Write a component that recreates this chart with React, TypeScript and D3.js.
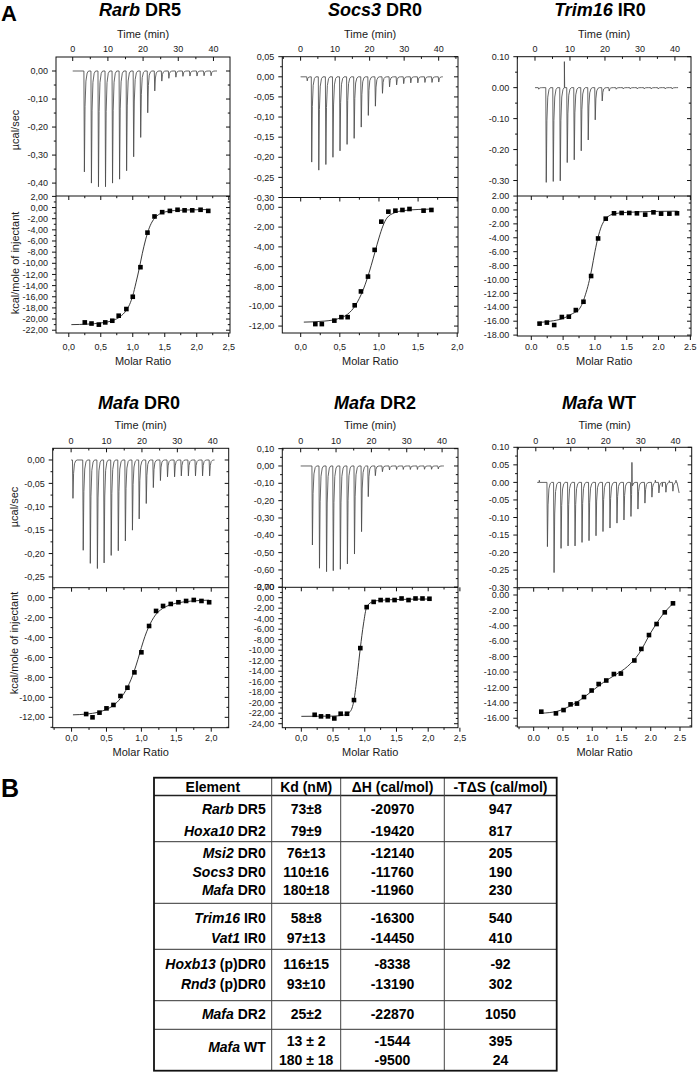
import React from 'react';
import * as d3 from 'd3';

const FONT = "'Liberation Sans', Arial, Helvetica, sans-serif";

// ---------- Panel A data ----------
// Rarb DR5
const rarbTimes = [3.2, 5.2, 7.2, 9.2, 11.2, 13.2, 15.2, 17.2, 19.2, 21.2, 23.2, 25.2, 27.2, 29.2, 31.2, 33.2, 35.2, 37.2, 39.2];
const rarbPeaks = [-0.36, -0.4, -0.413, -0.413, -0.4, -0.386, -0.356, -0.306, -0.237, -0.149, -0.071, -0.036, -0.026, -0.022, -0.019, -0.018, -0.018, -0.017, -0.017];
const rarbRatio = [0.25, 0.355, 0.47, 0.57, 0.68, 0.78, 0.9, 1.0, 1.12, 1.23, 1.34, 1.46, 1.58, 1.7, 1.81, 1.93, 2.06, 2.18];
const rarbHeat = [-20.6, -20.8, -21.0, -20.6, -20.3, -19.4, -18.2, -16.0, -10.7, -4.5, -1.6, -0.83, -0.6, -0.4, -0.5, -0.5, -0.4, -0.6];
const rarbFitX = [0.04, 0.3, 0.5, 0.7, 0.8, 0.9, 0.95, 1.0, 1.05, 1.1, 1.15, 1.2, 1.25, 1.3, 1.35, 1.4, 1.5, 1.7, 2.0, 2.19];
const rarbFitY = [-21.0, -20.9, -20.7, -20.2, -19.6, -18.4, -17.4, -15.8, -13.5, -11.0, -8.2, -5.8, -3.9, -2.6, -1.8, -1.3, -0.8, -0.5, -0.4, -0.35];

// Socs3 DR0
const socsTimes = [1.8, 3.1, 5.15, 7.2, 9.25, 11.3, 13.35, 15.4, 17.45, 19.5, 21.55, 23.6, 25.65, 27.7, 29.75, 31.8, 33.85, 35.9, 37.95, 39.9];
const socsPeaks = [-0.01, -0.212, -0.232, -0.218, -0.2, -0.184, -0.168, -0.153, -0.125, -0.096, -0.073, -0.041, -0.025, -0.02, -0.017, -0.015, -0.015, -0.014, -0.014, -0.013];
const socsRatio = [0.187, 0.27, 0.43, 0.52, 0.6, 0.69, 0.77, 0.86, 0.945, 1.03, 1.12, 1.21, 1.3, 1.39, 1.57, 1.67];
const socsHeat = [-11.8, -11.8, -11.45, -11.1, -11.1, -9.9, -8.5, -7.0, -4.3, -1.45, -0.44, -0.34, -0.27, -0.17, -0.34, -0.27];
const socsFitX = [0.04, 0.3, 0.5, 0.6, 0.7, 0.8, 0.85, 0.9, 0.95, 1.0, 1.05, 1.1, 1.2, 1.3, 1.5, 1.67];
const socsFitY = [-11.6, -11.5, -11.2, -10.8, -9.9, -8.3, -7.2, -5.9, -4.5, -3.1, -1.9, -1.1, -0.55, -0.35, -0.22, -0.18];

// Trim16 IR0
const trimTimes = [0.95, 3.1, 5.1, 7.1, 9.1, 11.1, 13.1, 15.1, 17.1, 19.1, 21.1, 23.1, 25.1, 27.1, 29.1, 31.1, 33.1, 35.1, 37.1, 39.1];
const trimPeaks = [-0.005, -0.306, -0.303, -0.301, -0.242, -0.233, -0.204, -0.169, -0.104, -0.043, -0.011, -0.005, -0.004, -0.004, -0.004, -0.004, -0.004, -0.004, -0.004, -0.004];
const trimSpikes: [number, number][] = [[8.4, 0.084]];
const trimRatio = [0.13, 0.245, 0.36, 0.48, 0.59, 0.7, 0.82, 0.94, 1.05, 1.17, 1.3, 1.42, 1.54, 1.66, 1.79, 1.92, 2.04, 2.17, 2.29];
const trimHeat = [-16.35, -16.2, -16.55, -15.4, -15.35, -14.4, -13.2, -9.5, -4.1, -1.25, -0.48, -0.43, -0.43, -0.48, -0.67, -0.34, -0.53, -0.53, -0.48];
const trimFitX = [0.1, 0.3, 0.5, 0.65, 0.75, 0.8, 0.85, 0.9, 0.95, 1.0, 1.05, 1.1, 1.15, 1.2, 1.3, 1.5, 2.0, 2.3];
const trimFitY = [-16.2, -16.0, -15.6, -14.9, -14.3, -13.5, -12.2, -10.6, -8.5, -6.0, -3.9, -2.4, -1.5, -1.0, -0.55, -0.35, -0.2, -0.17];

// Mafa DR0
const mdr0Times = [0.4, 3.3, 5.3, 7.3, 9.2, 11.2, 13.2, 15.2, 17.2, 19.1, 21.1, 23.1, 25.1, 27.1, 29.1, 31.0, 33.0, 35.0, 37.0, 39.0];
const mdr0Peaks = [-0.082, -0.193, -0.221, -0.232, -0.22, -0.204, -0.194, -0.173, -0.15, -0.126, -0.093, -0.059, -0.044, -0.036, -0.036, -0.034, -0.034, -0.034, -0.034, -0.034];
const mdr0Ratio = [0.209, 0.3, 0.4, 0.5, 0.6, 0.7, 0.8, 0.9, 1.0, 1.11, 1.21, 1.31, 1.42, 1.53, 1.64, 1.75, 1.86, 1.97];
const mdr0Heat = [-11.67, -12.0, -11.53, -11.1, -10.76, -9.86, -9.03, -7.49, -5.48, -2.84, -1.33, -0.83, -0.63, -0.46, -0.33, -0.23, -0.33, -0.46];
const mdr0FitX = [0.02, 0.2, 0.4, 0.5, 0.6, 0.7, 0.8, 0.9, 0.95, 1.0, 1.05, 1.1, 1.15, 1.2, 1.3, 1.4, 1.5, 1.7, 1.97];
const mdr0FitY = [-11.75, -11.68, -11.45, -11.2, -10.8, -10.1, -9.0, -7.3, -6.2, -5.0, -3.9, -3.0, -2.3, -1.75, -1.1, -0.75, -0.55, -0.35, -0.25];

// Mafa DR2
const mdr2Times = [3.2, 5.2, 7.2, 9.1, 11.1, 13.1, 15.1, 17.1, 19.0, 21.0, 23.0, 25.0, 27.0, 28.9, 30.9, 32.9, 34.9, 36.9, 38.8];
const mdr2Peaks = [-0.456, -0.59, -0.61, -0.604, -0.596, -0.565, -0.508, -0.379, -0.177, -0.056, -0.033, -0.023, -0.02, -0.02, -0.02, -0.02, -0.019, -0.019, -0.017];
const mdr2Ratio = [0.21, 0.31, 0.42, 0.52, 0.62, 0.72, 0.83, 0.93, 1.03, 1.14, 1.25, 1.36, 1.47, 1.58, 1.69, 1.8, 1.91, 2.02];
const mdr2Heat = [-22.3, -22.6, -22.6, -23.0, -22.1, -22.1, -19.5, -9.6, -1.8, -0.8, -0.45, -0.45, -0.45, -0.15, -0.45, -0.15, -0.15, -0.2];
const mdr2FitX = [0.0, 0.5, 0.7, 0.76, 0.8, 0.83, 0.88, 0.93, 0.98, 1.03, 1.1, 1.2, 1.5, 2.02];
const mdr2FitY = [-22.6, -22.55, -22.3, -21.8, -21.0, -19.5, -15.0, -9.6, -5.0, -1.8, -0.9, -0.55, -0.35, -0.25];

// Mafa WT
const mwtTimes = [3.2, 5.1, 7.1, 9.1, 11.1, 13.1, 15.1, 17.1, 19.1, 21.1, 23.1, 25.1, 27.1, 29.1, 31.1, 33.1, 35.1, 37.1, 39.1];
const mwtPeaks = [-0.183, -0.257, -0.188, -0.181, -0.181, -0.171, -0.166, -0.152, -0.14, -0.13, -0.116, -0.107, -0.097, -0.076, -0.059, -0.042, -0.03, -0.028, -0.025];
const mwtSpikes: [number, number][] = [[1.0, 0.006], [27.5, 0.057], [34.2, 0.006], [36.2, -0.012], [38.2, 0.005], [40.1, 0.006]];
const mwtRatio = [0.13, 0.38, 0.51, 0.63, 0.74, 0.86, 0.99, 1.11, 1.24, 1.37, 1.49, 1.72, 1.84, 1.97, 2.1, 2.24, 2.38];
const mwtHeat = [-15.15, -15.37, -14.94, -14.2, -14.1, -13.25, -12.4, -11.56, -11.1, -10.26, -10.2, -8.5, -7.0, -5.2, -3.77, -2.25, -1.08];
const mwtFitX = [0.13, 0.4, 0.6, 0.8, 1.0, 1.2, 1.4, 1.6, 1.8, 2.0, 2.2, 2.38];
const mwtFitY = [-15.35, -15.1, -14.5, -13.6, -12.45, -11.3, -10.35, -9.3, -7.6, -4.9, -2.6, -1.1];

// Axis tick values
const timeTicks = [0, 10, 20, 30, 40];
const molar25 = [0, 0.5, 1.0, 1.5, 2.0, 2.5];
const molar20 = [0, 0.5, 1.0, 1.5, 2.0];

// ---------- Panel B table data ----------
const tblGenes = ['Rarb', 'Hoxa10', 'Msi2', 'Socs3', 'Mafa', 'Trim16', 'Vat1', 'Hoxb13', 'Rnd3', 'Mafa', 'Mafa'];
const tblSites = ['DR5', 'DR2', 'DR0', 'DR0', 'DR0', 'IR0', 'IR0', '(p)DR0', '(p)DR0', 'DR2', 'WT'];
const tblKd = [['73±8'], ['79±9'], ['76±13'], ['110±16'], ['180±18'], ['58±8'], ['97±13'], ['116±15'], ['93±10'], ['25±2'], ['13 ± 2', '180 ± 18']];
const tblDH = [['-20970'], ['-19420'], ['-12140'], ['-11760'], ['-11960'], ['-16300'], ['-14450'], ['-8338'], ['-13190'], ['-22870'], ['-1544', '-9500']];
const tblTDS = [['947'], ['817'], ['205'], ['190'], ['230'], ['540'], ['410'], ['-92'], ['302'], ['1050'], ['395', '24']];
const tblHeaders = ['Element', 'Kd (nM)', 'ΔH (cal/mol)', '-TΔS (cal/mol)'];

type Cfg = {
  gene: string; suffix: string; titleX: number; titleY: number;
  L: number; R: number; T: number; D: number; B: number;
  timeDomain: [number, number];
  topDomain: [number, number]; topMajor: number[]; topMinorStep: number;
  lowDomain: [number, number]; lowMajor: number[];
  molarDomain: [number, number]; molarMajor: number[];
  comma: boolean;
  times: number[]; peaks: number[]; spikes: [number, number][];
  traceStart: [number, number]; traceEnd: [number, number];
  ratio: number[]; heat: number[]; fitX: number[]; fitY: number[];
  yTitles: null | { x: number; top: number; low: number };
  timeTickY: number; timeLabelY: number; molarTickY: number; molarLabelY: number;
};

const rng = (a: number, b: number, s: number) => d3.range(Math.round(a / s), Math.round(b / s) + 1).map((k) => k * s);

const row1 = { timeTickY: 52.3, timeLabelY: 37.5, molarTickY: 349.5, molarLabelY: 365 };
const row2 = { timeTickY: 443.5, timeLabelY: 429, molarTickY: 740.8, molarLabelY: 756 };

const panels: Cfg[] = [
  {
    gene: 'Rarb', suffix: 'DR5', titleX: 140, titleY: 16, L: 56, R: 230, T: 57, D: 196, B: 333,
    timeDomain: [-4.75, 44.7], topDomain: [0.05, -0.446], topMajor: [0, -0.1, -0.2, -0.3, -0.4], topMinorStep: 0.05,
    lowDomain: [2.07, -22.5], lowMajor: rng(-22, 2, 2), molarDomain: [-0.2, 2.52], molarMajor: molar25, comma: true,
    times: rarbTimes, peaks: rarbPeaks, spikes: [], traceStart: [0, 0], traceEnd: [41, 0],
    ratio: rarbRatio, heat: rarbHeat, fitX: rarbFitX, fitY: rarbFitY,
    yTitles: { x: 15, top: 130, low: 263 }, ...row1,
  },
  {
    gene: 'Socs3', suffix: 'DR0', titleX: 375, titleY: 16, L: 282.3, R: 458, T: 56.7, D: 197.5, B: 333,
    timeDomain: [-5.3, 45.6], topDomain: [0.05, -0.3], topMajor: rng(-0.3, 0.05, 0.05), topMinorStep: 0.025,
    lowDomain: [0.99, -12.7], lowMajor: rng(-12, 0, 2), molarDomain: [-0.235, 2.01], molarMajor: molar20, comma: true,
    times: socsTimes, peaks: socsPeaks, spikes: [], traceStart: [0, 0], traceEnd: [41.2, 0],
    ratio: socsRatio, heat: socsHeat, fitX: socsFitX, fitY: socsFitY,
    yTitles: null, ...row1,
  },
  {
    gene: 'Trim16', suffix: 'IR0', titleX: 600, titleY: 16, L: 517.3, R: 691, T: 56.7, D: 196, B: 336,
    timeDomain: [-5.06, 44.6], topDomain: [0.1, -0.35], topMajor: [0.1, 0, -0.1, -0.2, -0.3], topMinorStep: 0.05,
    lowDomain: [2.01, -18.13], lowMajor: rng(-18, 2, 2), molarDomain: [-0.22, 2.51], molarMajor: molar25, comma: false,
    times: trimTimes, peaks: trimPeaks, spikes: trimSpikes, traceStart: [0, 0], traceEnd: [40.9, 0],
    ratio: trimRatio, heat: trimHeat, fitX: trimFitX, fitY: trimFitY,
    yTitles: null, ...row1,
  },
  {
    gene: 'Mafa', suffix: 'DR0', titleX: 139, titleY: 408.5, L: 52.7, R: 228.7, T: 448.3, D: 587.7, B: 727.7,
    timeDomain: [-5.2, 44.5], topDomain: [0.025, -0.273], topMajor: rng(-0.25, 0, 0.05), topMinorStep: 0.025,
    lowDomain: [1.0, -13.04], lowMajor: rng(-12, 0, 2), molarDomain: [-0.27, 2.25], molarMajor: molar20, comma: true,
    times: mdr0Times, peaks: mdr0Peaks, spikes: [], traceStart: [0, 0], traceEnd: [40.5, 0],
    ratio: mdr0Ratio, heat: mdr0Heat, fitX: mdr0FitX, fitY: mdr0FitY,
    yTitles: { x: 14, top: 507, low: 643 }, ...row2,
  },
  {
    gene: 'Mafa', suffix: 'DR2', titleX: 375, titleY: 408.5, L: 282.3, R: 458, T: 448.3, D: 587.3, B: 727.7,
    timeDomain: [-5.2, 44.5], topDomain: [0.102, -0.7], topMajor: rng(-0.7, 0.1, 0.1), topMinorStep: 0.05,
    lowDomain: [1.98, -24.76], lowMajor: rng(-24, 2, 2), molarDomain: [-0.3, 2.47], molarMajor: molar25, comma: true,
    times: mdr2Times, peaks: mdr2Peaks, spikes: [], traceStart: [0, 0], traceEnd: [40.5, 0],
    ratio: mdr2Ratio, heat: mdr2Heat, fitX: mdr2FitX, fitY: mdr2FitY,
    yTitles: null, ...row2,
  },
  {
    gene: 'Mafa', suffix: 'WT', titleX: 599, titleY: 408.5, L: 517.3, R: 691.7, T: 447.3, D: 587.7, B: 727,
    timeDomain: [-5.3, 44.6], topDomain: [0.1, -0.3], topMajor: rng(-0.3, 0.1, 0.05), topMinorStep: 0.025,
    lowDomain: [0.95, -17.14], lowMajor: rng(-16, 0, 2), molarDomain: [-0.28, 2.7], molarMajor: molar25, comma: false,
    times: mwtTimes, peaks: mwtPeaks, spikes: mwtSpikes, traceStart: [0.4, 0], traceEnd: [41, -0.03],
    ratio: mwtRatio, heat: mwtHeat, fitX: mwtFitX, fitY: mwtFitY,
    yTitles: null, ...row2,
  },
];

function fmt(v: number, dec: number, comma: boolean) {
  let s = (Math.abs(v) < 1e-9 ? 0 : v).toFixed(dec);
  if (comma) s = s.replace('.', ',');
  return s;
}

function minors(domain: [number, number], step: number, majors: number[]) {
  const lo = Math.min(domain[0], domain[1]);
  const hi = Math.max(domain[0], domain[1]);
  const out: number[] = [];
  for (let k = Math.ceil(lo / step - 1e-6); k * step <= hi + 1e-9; k++) {
    const v = k * step;
    if (v - lo < 1e-6 * 1000 * step || hi - v < 1e-3 * step) continue;
    if (majors.some((m) => Math.abs(m - v) < step / 10)) continue;
    out.push(v);
  }
  return out;
}

function buildTrace(c: Cfg) {
  const pts: [number, number][] = [c.traceStart];
  c.times.forEach((t, i) => {
    const p = c.peaks[i];
    pts.push([t - 0.02, 0], [t + 0.12, p], [t + 0.3, p * 0.35], [t + 0.55, p * 0.1], [t + 0.9, p * 0.02], [t + 1.3, 0]);
  });
  c.spikes.forEach(([t, v]) => pts.push([t - 0.06, 0], [t, v], [t + 0.08, 0]));
  pts.push(c.traceEnd);
  pts.sort((a, b) => a[0] - b[0]);
  return pts;
}

const TXT = '#1a1a1a';
const AX = '#111';

function Panel({ c }: { c: Cfg }) {
  const xt = d3.scaleLinear().domain(c.timeDomain).range([c.L, c.R]);
  const yt = d3.scaleLinear().domain(c.topDomain).range([c.T, c.D]);
  const xm = d3.scaleLinear().domain(c.molarDomain).range([c.L, c.R]);
  const yl = d3.scaleLinear().domain(c.lowDomain).range([c.D, c.B]);

  const trace = d3.line<[number, number]>().x((d) => xt(d[0])).y((d) => yt(d[1]))(buildTrace(c)) || '';
  const fitPts = c.fitX.map((x, i) => [x, c.fitY[i]] as [number, number]);
  const fit = d3.line<[number, number]>().x((d) => xm(d[0])).y((d) => yl(d[1])).curve(d3.curveMonotoneX)(fitPts) || '';

  const tMinor = minors(c.timeDomain, 5, timeTicks);
  const topMin = minors(c.topDomain, c.topMinorStep, c.topMajor);
  const lowMin = minors(c.lowDomain, 1, c.lowMajor);
  const mMinor = minors(c.molarDomain, 0.25, c.molarMajor);
  const sq = 4.6;
  const cx = (c.L + c.R) / 2;

  return (
    <g>
      {/* title */}
      <text x={c.titleX} y={c.titleY} textAnchor="middle" fontFamily={FONT} fontWeight="bold" fontSize={18} fill="#000">
        <tspan fontStyle="italic">{c.gene}</tspan> {c.suffix}
      </text>
      <text x={cx} y={c.timeLabelY} textAnchor="middle" fontFamily={FONT} fontSize={11} fill={TXT}>Time (min)</text>
      <text x={cx} y={c.molarLabelY} textAnchor="middle" fontFamily={FONT} fontSize={11} fill={TXT}>Molar Ratio</text>
      {c.yTitles && (
        <g fontFamily={FONT} fontSize={11} fill={TXT} textAnchor="middle">
          <text transform={`translate(${c.yTitles.x},${c.yTitles.top}) rotate(-90)`} dy="0.35em">µcal/sec</text>
          <text transform={`translate(${c.yTitles.x},${c.yTitles.low}) rotate(-90)`} dy="0.35em">kcal/mole of injectant</text>
        </g>
      )}

      {/* data: thermogram */}
      <path d={trace} fill="none" stroke="#4a4a4a" strokeWidth={0.85} strokeLinejoin="round" />
      {/* data: fit + points */}
      <path d={fit} fill="none" stroke="#222" strokeWidth={0.9} />
      {c.ratio.map((r, i) => (
        <rect key={i} x={xm(r) - sq / 2} y={yl(c.heat[i]) - sq / 2} width={sq} height={sq} fill="#000" />
      ))}

      {/* frames */}
      <rect x={c.L} y={c.T} width={c.R - c.L} height={c.B - c.T} fill="none" stroke={AX} strokeWidth={1} />
      <line x1={c.L} x2={c.R} y1={c.D} y2={c.D} stroke={AX} strokeWidth={1} />

      {/* top time axis (ticks inward) */}
      {timeTicks.map((t) => (
        <g key={'tt' + t}>
          <line x1={xt(t)} x2={xt(t)} y1={c.T} y2={c.T + 4} stroke={AX} />
          <text x={xt(t)} y={c.timeTickY} textAnchor="middle" fontFamily={FONT} fontSize={9} fill={TXT}>{t}</text>
        </g>
      ))}
      {tMinor.map((t) => <line key={'tm' + t} x1={xt(t)} x2={xt(t)} y1={c.T} y2={c.T + 2.2} stroke={AX} />)}

      {/* top panel y axis */}
      {c.topMajor.map((v) => (
        <g key={'ty' + v}>
          <line x1={c.L - 4} x2={c.L} y1={yt(v)} y2={yt(v)} stroke={AX} />
          <line x1={c.R - 4} x2={c.R} y1={yt(v)} y2={yt(v)} stroke={AX} />
          <text x={c.L - 8} y={yt(v)} dy="0.35em" textAnchor="end" fontFamily={FONT} fontSize={9} fill={TXT}>{fmt(v, 2, c.comma)}</text>
        </g>
      ))}
      {topMin.map((v) => (
        <g key={'tym' + v}>
          <line x1={c.L - 2.2} x2={c.L} y1={yt(v)} y2={yt(v)} stroke={AX} />
          <line x1={c.R - 2.2} x2={c.R} y1={yt(v)} y2={yt(v)} stroke={AX} />
        </g>
      ))}

      {/* lower panel y axis */}
      {c.lowMajor.map((v) => (
        <g key={'ly' + v}>
          <line x1={c.L - 4} x2={c.L} y1={yl(v)} y2={yl(v)} stroke={AX} />
          <line x1={c.R - 4} x2={c.R} y1={yl(v)} y2={yl(v)} stroke={AX} />
          <text x={c.L - 8} y={yl(v)} dy="0.35em" textAnchor="end" fontFamily={FONT} fontSize={9} fill={TXT}>{fmt(v, 2, c.comma)}</text>
        </g>
      ))}
      {lowMin.map((v) => (
        <g key={'lym' + v}>
          <line x1={c.L - 2.2} x2={c.L} y1={yl(v)} y2={yl(v)} stroke={AX} />
          <line x1={c.R - 2.2} x2={c.R} y1={yl(v)} y2={yl(v)} stroke={AX} />
        </g>
      ))}

      {/* molar axis */}
      {c.molarMajor.map((m) => (
        <g key={'mx' + m}>
          <line x1={xm(m)} x2={xm(m)} y1={c.B} y2={c.B + 4} stroke={AX} />
          <line x1={xm(m)} x2={xm(m)} y1={c.D} y2={c.D + 4} stroke={AX} />
          <text x={xm(m)} y={c.molarTickY} textAnchor="middle" fontFamily={FONT} fontSize={9} fill={TXT}>{fmt(m, 1, c.comma)}</text>
        </g>
      ))}
      {mMinor.map((m) => (
        <g key={'mm' + m}>
          <line x1={xm(m)} x2={xm(m)} y1={c.B} y2={c.B + 2.2} stroke={AX} />
          <line x1={xm(m)} x2={xm(m)} y1={c.D} y2={c.D + 2.2} stroke={AX} />
        </g>
      ))}
    </g>
  );
}

const tbl = {
  L: 154, R: 556.7, T: 777.7, B: 1070.7, headLine: 795.5,
  cols: [271.7, 340.7, 444.3],
  seps: [841.7, 903.3, 949.3, 1000.7, 1029.3],
  headY: 791.5,
  rowY: [814, 835.7, 858.3, 876.7, 895, 923.3, 943.3, 969.3, 989.3, 1019, 1051.7],
  multiY: [1046, 1065],
  elemX: 265.7,
};

function Table() {
  const colCenters = [
    (tbl.L + tbl.cols[0]) / 2,
    (tbl.cols[0] + tbl.cols[1]) / 2,
    (tbl.cols[1] + tbl.cols[2]) / 2,
    (tbl.cols[2] + tbl.R) / 2,
  ];
  const valueCols = [tblKd, tblDH, tblTDS];
  return (
    <g fontFamily={FONT} fontWeight="bold" fontSize={14} fill="#000">
      {tblHeaders.map((h, i) => (
        <text key={h} x={colCenters[i]} y={tbl.headY} textAnchor="middle">{h}</text>
      ))}
      {tblGenes.map((g, i) => (
        <text key={'e' + i} x={tbl.elemX} y={tbl.rowY[i]} textAnchor="end">
          <tspan fontStyle="italic">{g}</tspan> {tblSites[i]}
        </text>
      ))}
      {valueCols.map((col, ci) =>
        col.map((vals, ri) =>
          vals.map((v, k) => (
            <text key={`v${ci}-${ri}-${k}`} x={colCenters[ci + 1]}
              y={vals.length > 1 ? tbl.multiY[k] : tbl.rowY[ri]} textAnchor="middle">{v}</text>
          ))
        )
      )}
      <line x1={tbl.L} x2={tbl.R} y1={tbl.headLine} y2={tbl.headLine} stroke="#222" strokeWidth={1.3} />
      {tbl.seps.map((y) => <line key={y} x1={tbl.L} x2={tbl.R} y1={y} y2={y} stroke="#333" strokeWidth={1} />)}
      {tbl.cols.map((x) => <line key={x} x1={x} x2={x} y1={tbl.T} y2={tbl.B} stroke="#444" strokeWidth={1} />)}
      <rect x={tbl.L} y={tbl.T} width={tbl.R - tbl.L} height={tbl.B - tbl.T} fill="none" stroke="#111" strokeWidth={1.8} />
    </g>
  );
}

export default function App() {
  return (
    <svg width={698} height={1072} viewBox="0 0 698 1072"
      style={{ position: 'absolute', left: 0, top: 0, background: '#fff' }}>
      <rect x={0} y={0} width={698} height={1072} fill="#fff" />
      <text x={1} y={21} fontFamily={FONT} fontWeight="bold" fontSize={22} fill="#000">A</text>
      <text x={1} y={796.5} fontFamily={FONT} fontWeight="bold" fontSize={25} fill="#000">B</text>
      {panels.map((c, i) => <Panel key={i} c={c} />)}
      <Table />
    </svg>
  );
}
